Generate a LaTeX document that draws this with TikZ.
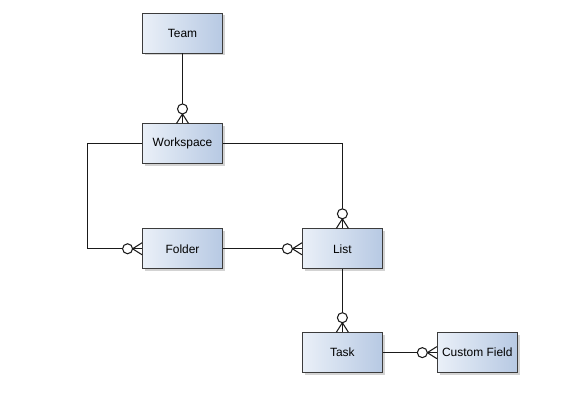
\documentclass[tikz,border=0pt]{standalone}
\usepackage{fontspec}
\setmainfont{Liberation Sans}
\usepackage{xcolor}
\definecolor{ERboxL}{HTML}{EAF0F8}
\definecolor{ERboxR}{HTML}{B7C9E3}
\definecolor{ERline}{HTML}{1A1A1A}
\usepackage{tikz}
\usetikzlibrary{positioning,shadows}

% zero-or-many end: #1 = point on the box border, #2 = direction away from the box
\newcommand{\zeromany}[2]{%
  \begin{scope}[shift={(#1)}, rotate=#2]
    \draw[conn] (0,0.12) -- (0.19,0) -- (0,-0.12);
    \draw[conn, fill=white] (0.29,0) circle (0.1);
  \end{scope}}

\begin{document}
\begin{tikzpicture}[
  node distance=1.4cm and 1.58cm,
  entity/.style={draw=ERline!85, line width=0.5pt, left color=ERboxL, right color=ERboxR,
    minimum width=1.6cm, minimum height=0.8cm, inner sep=1pt, align=center,
    font=\fontsize{6.8}{8}\selectfont,
    drop shadow={shadow xshift=1.4pt, shadow yshift=-1.4pt, opacity=0.35}},
  conn/.style={draw=ERline, line width=0.6pt}
]
\useasboundingbox (0,0) rectangle (11.64,-8.34);

\node[entity] (team) at (3.65,-0.66) {Team};
\node[entity, below=1.4cm of team] (ws) {Workspace};
\node[entity, below=1.28cm of ws] (folder) {Folder};
\node[entity, right=1.58cm of folder] (list) {List};
\node[entity, below=1.26cm of list] (task) {Task};
\node[entity, right=1.08cm of task] (cf) {Custom Field};

\draw[conn] (team) -- (ws);
\draw[conn] (ws.west) -- ++(-1.1,0) |- (folder.west);
\draw[conn] (ws.east) -| (list.north);
\draw[conn] (folder) -- (list);
\draw[conn] (list) -- (task);
\draw[conn] (task) -- (cf);

\zeromany{ws.north}{90}
\zeromany{folder.west}{180}
\zeromany{list.north}{90}
\zeromany{list.west}{180}
\zeromany{task.north}{90}
\zeromany{cf.west}{180}
\end{tikzpicture}
\end{document}
